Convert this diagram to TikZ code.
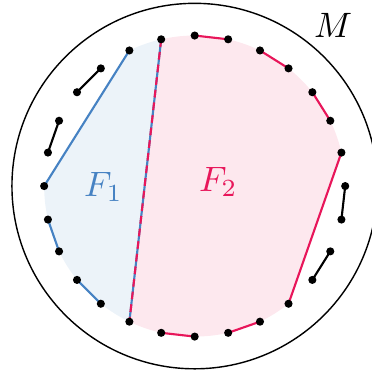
\documentclass[tikz,border=0pt]{standalone}
\usepackage{amsmath}
\usepackage{tikz}
\definecolor{fblue}{RGB}{70,130,195}
\definecolor{fred}{RGB}{232,22,90}

\begin{document}
\begin{tikzpicture}[line width=0.6pt]
  \def\R{1.5}
  \pgfmathsetmacro{\da}{360/28}
  \useasboundingbox (-1.94,-1.844) rectangle (1.767,1.854);

  % points on the circle
  \foreach \k in {0,...,27} \coordinate (p\k) at ({\k*\da}:\R);

  % faces
  \fill[fblue!10] (p8) arc[start angle={8*\da}, end angle={9*\da}, radius=\R] -- (p14)
    arc[start angle=180, end angle={19*\da}, radius=\R] -- cycle;
  \fill[fred!10] (p19) -- (p8) arc[start angle={8*\da}, end angle={\da}, radius=\R] -- (p24)
    arc[start angle={24*\da}, end angle={19*\da}, radius=\R] -- cycle;

  % surface
  \draw[line width=0.4pt] (0,0) circle (1.821);
  \node (M) at (1.38,1.605) {$M$};

  % edges
  \draw[fblue] (p9) -- (p14) (p15) -- (p16) (p17) -- (p18);
  \draw[fred] (p1) -- (p24) (p2) -- (p3) (p4) -- (p5) (p6) -- (p7) (p20) -- (p21) (p22) -- (p23);
  \draw (p10) -- (p11) (p12) -- (p13) (p25) -- (p26) (p27) -- (p0);
  \draw[fblue] (p8) -- (p19);
  \draw[fred, dash pattern=on 2.2pt off 1.4pt] (p8) -- (p19);

  % vertices
  \foreach \k in {0,...,27} \fill (p\k) circle (1.15pt);

  \node[fblue] (F1) at (-0.91,-0.01) {$F_1$};
  \node[fred] (F2) at (0.235,0.04) {$F_2$};
\end{tikzpicture}
\end{document}
